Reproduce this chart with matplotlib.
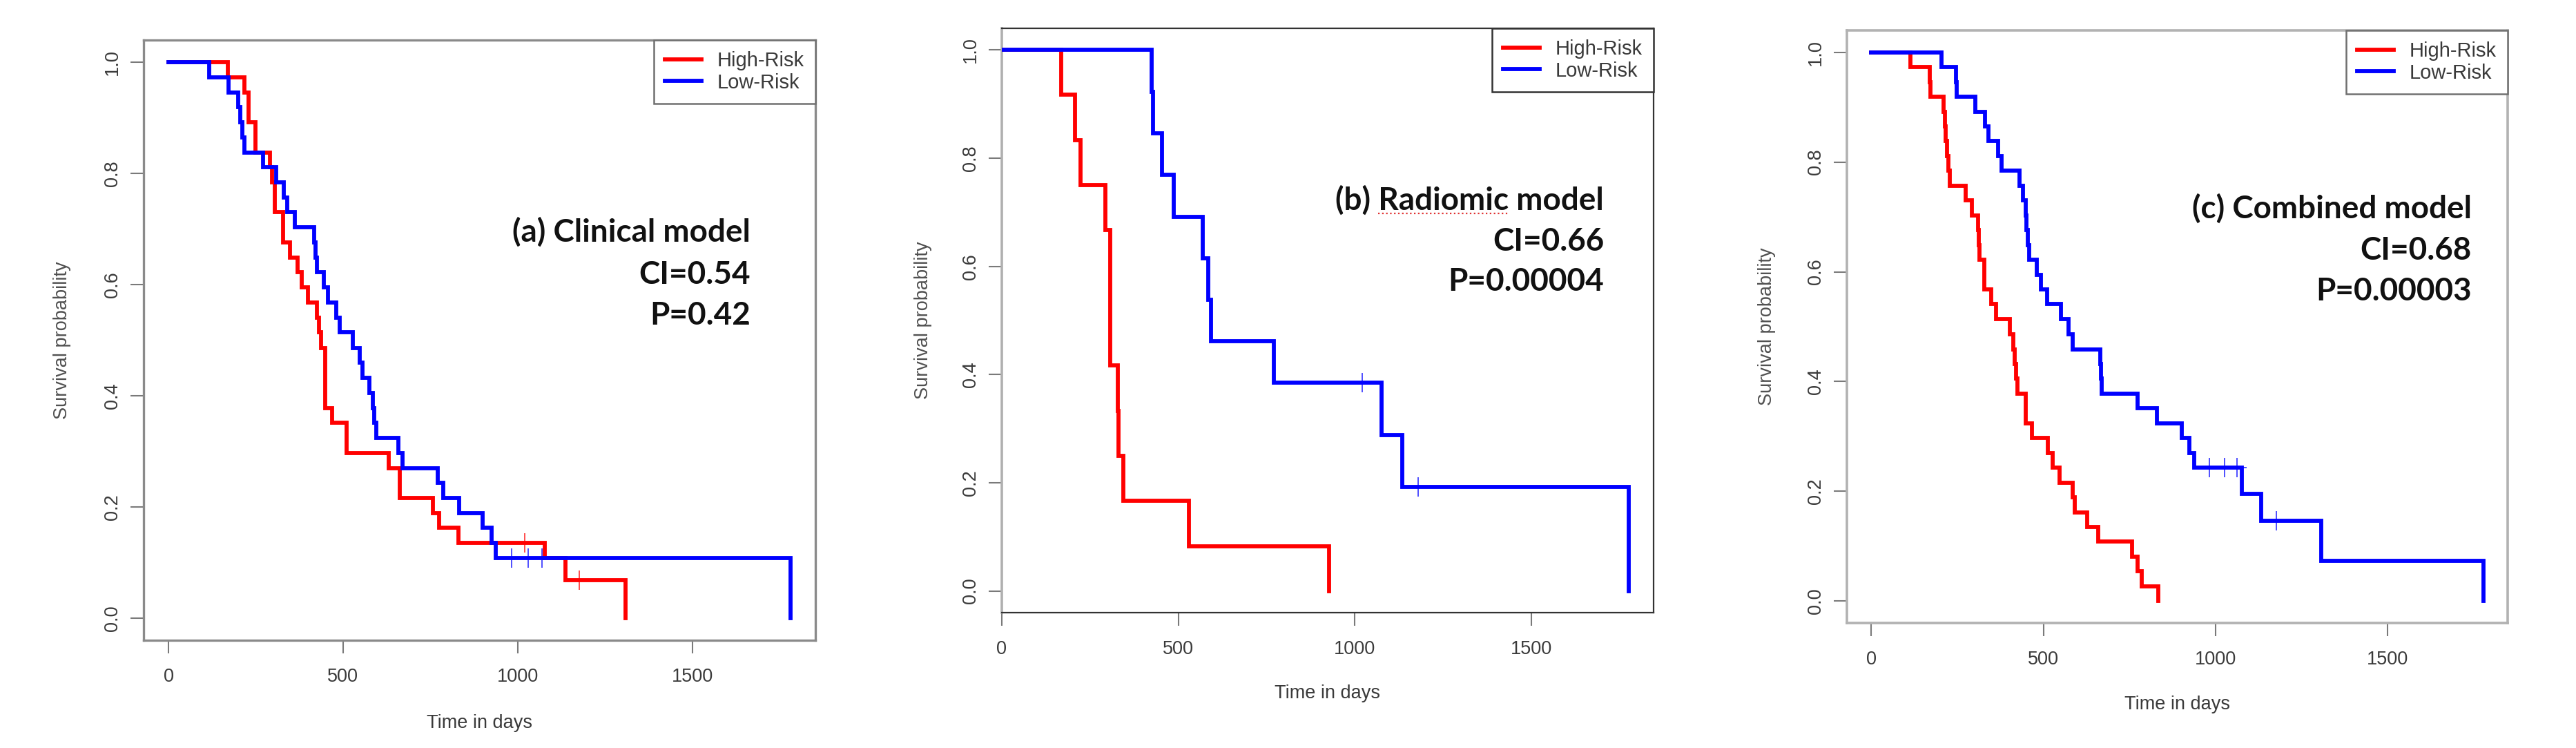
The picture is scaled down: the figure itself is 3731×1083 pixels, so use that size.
import matplotlib
matplotlib.use("Agg")
import matplotlib.pyplot as plt
from matplotlib.lines import Line2D

# ---------------- data ----------------
# Panel (a) Clinical model
a_high_t = [169, 217, 230, 249, 290, 297, 305, 329, 348, 369, 381, 400, 424, 430, 436,
            449, 468, 510, 630, 663, 758, 774, 830, 1078, 1136, 1309]
a_high_s = [0.973, 0.946, 0.892, 0.838, 0.811, 0.784, 0.730, 0.676, 0.649, 0.622, 0.595,
            0.568, 0.541, 0.514, 0.486, 0.378, 0.351, 0.297, 0.270, 0.216, 0.189, 0.162,
            0.135, 0.108, 0.068, 0.0]
a_high_cens_t = [1019, 1177]
a_high_cens_s = [0.135, 0.068]
a_low_t = [117, 172, 200, 206, 212, 218, 271, 309, 331, 339, 362, 418, 421, 424, 444, 457,
           481, 490, 528, 548, 556, 575, 586, 590, 594, 659, 671, 770, 786, 832, 900, 925,
           936, 1781]
a_low_s = [0.973, 0.946, 0.919, 0.892, 0.865, 0.838, 0.811, 0.784, 0.757, 0.730, 0.703,
           0.676, 0.649, 0.622, 0.595, 0.568, 0.541, 0.514, 0.486, 0.459, 0.432, 0.405,
           0.378, 0.351, 0.324, 0.297, 0.270, 0.243, 0.216, 0.189, 0.162, 0.135, 0.108, 0.0]
a_low_cens_t = [983, 1030, 1070]
a_low_cens_s = [0.108, 0.108, 0.108]

# Panel (b) Radiomic model
b_high_t = [169, 208, 223, 293, 308, 328, 330, 345, 531, 927]
b_high_s = [0.917, 0.833, 0.750, 0.667, 0.417, 0.333, 0.250, 0.167, 0.083, 0.0]
b_high_cens_t = []
b_high_cens_s = []
b_low_t = [424, 428, 453, 487, 570, 585, 593, 771, 1076, 1135, 1776]
b_low_s = [0.923, 0.846, 0.769, 0.692, 0.615, 0.538, 0.462, 0.385, 0.288, 0.192, 0.0]
b_low_cens_t = [1022, 1180]
b_low_cens_s = [0.385, 0.192]

# Panel (c) Combined model
c_high_t = [113, 170, 172, 209, 213, 216, 220, 224, 228, 273, 292, 309, 311, 313, 328, 349,
            363, 402, 413, 417, 421, 425, 448, 467, 513, 526, 547, 585, 590, 626, 658, 757,
            773, 786, 834]
c_high_s = [0.973, 0.946, 0.919, 0.892, 0.865, 0.838, 0.811, 0.784, 0.757, 0.730, 0.703,
            0.676, 0.649, 0.622, 0.568, 0.541, 0.514, 0.486, 0.459, 0.432, 0.405, 0.378,
            0.324, 0.297, 0.270, 0.243, 0.216, 0.189, 0.162, 0.135, 0.108, 0.081, 0.054,
            0.027, 0.0]
c_high_cens_t = []
c_high_cens_s = []
c_low_t = [204, 245, 247, 301, 330, 340, 368, 379, 430, 440, 448, 451, 455, 459, 480, 493,
           510, 550, 572, 585, 664, 666, 668, 773, 830, 901, 923, 937, 1076, 1133, 1307, 1777]
c_low_s = [0.973, 0.946, 0.919, 0.892, 0.865, 0.838, 0.811, 0.784, 0.757, 0.730, 0.703,
           0.676, 0.649, 0.622, 0.595, 0.568, 0.541, 0.514, 0.486, 0.459, 0.432, 0.405,
           0.378, 0.351, 0.324, 0.297, 0.270, 0.243, 0.195, 0.146, 0.073, 0.0]
c_low_cens_t = [982, 1025, 1062, 1176]
c_low_cens_s = [0.243, 0.243, 0.243, 0.146]

group_labels = ["High-Risk", "Low-Risk"]
group_colors = ["#ff0000", "#0000ff"]
x_ticks = [0, 500, 1000, 1500]
y_ticks = [0.0, 0.2, 0.4, 0.6, 0.8, 1.0]
y_ticklabels = ["0.0", "0.2", "0.4", "0.6", "0.8", "1.0"]
x_label = "Time in days"
y_label = "Survival probability"

titles = ["(a) Clinical model", "(b) Radiomic model", "(c) Combined model"]
ci_texts = ["CI=0.54", "CI=0.66", "CI=0.68"]
p_texts = ["P=0.42", "P=0.00004", "P=0.00003"]

# ---------------- figure ----------------
W, H = 3731, 1083
fig = plt.figure(figsize=(W / 100, H / 100), dpi=100)
fig.patch.set_facecolor("white")

TICK_FONT = "Liberation Sans"

panels = [
    dict(box=(208, 1181, 58, 927), high=(a_high_t, a_high_s, a_high_cens_t, a_high_cens_s),
         low=(a_low_t, a_low_s, a_low_cens_t, a_low_cens_s), pad_left=True,
         spine="#8a8a8a", spine_lw=2.4, left_spine="#8a8a8a", left_lw=2.4,
         leg_edge="#707070", text=(1087, 350, 411, 470)),
    dict(box=(1451, 2395, 41, 887), high=(b_high_t, b_high_s, b_high_cens_t, b_high_cens_s),
         low=(b_low_t, b_low_s, b_low_cens_t, b_low_cens_s), pad_left=False,
         spine="#333333", spine_lw=1.6, left_spine="#b0b0b0", left_lw=2.6,
         leg_edge="#333333", text=(2323, 304, 363, 421)),
    dict(box=(2675, 3632, 44, 902), high=(c_high_t, c_high_s, c_high_cens_t, c_high_cens_s),
         low=(c_low_t, c_low_s, c_low_cens_t, c_low_cens_s), pad_left=True,
         spine="#b2b2b2", spine_lw=2.6, left_spine="#b2b2b2", left_lw=2.6,
         leg_edge="#707070", text=(3580, 316, 376, 435)),
]

axes = []
for i, p in enumerate(panels):
    l, r, t, b = p["box"]
    ax = fig.add_axes([l / W, 1 - b / H, (r - l) / W, (b - t) / H])
    axes.append(ax)

    for (tt, ss, ct, cs), col in zip([p["high"], p["low"]], group_colors):
        ax.step([0] + list(tt), [1.0] + list(ss), where="post", color=col, lw=4.2,
                solid_joinstyle="miter", zorder=3)
        if ct:
            ax.plot(ct, cs, ls="none", marker="+", ms=20, mew=1.3, color=col,
                    alpha=0.75, zorder=4)

    tmax = max(max(p["high"][0]), max(p["low"][0]))
    xl = -0.04 * tmax if p["pad_left"] else 0
    ax.set_xlim(xl, 1.04 * tmax)
    ax.set_ylim(-0.04, 1.04)

    ax.set_xticks(x_ticks)
    ax.set_xticklabels([str(v) for v in x_ticks])
    ax.set_yticks(y_ticks)
    ax.set_yticklabels(y_ticklabels, rotation=90, va="center")
    ax.tick_params(axis="both", direction="out", length=13.7, width=1.5,
                   colors="#7a7a7a", labelcolor="#3a3a3a", labelsize=19.5)
    ax.tick_params(axis="x", pad=15)
    ax.tick_params(axis="y", pad=9.5)
    for lab in ax.get_xticklabels() + ax.get_yticklabels():
        lab.set_fontfamily(TICK_FONT)

    for side in ["top", "right", "bottom"]:
        ax.spines[side].set_color(p["spine"])
        ax.spines[side].set_linewidth(p["spine_lw"])
    ax.spines["left"].set_color(p["left_spine"])
    ax.spines["left"].set_linewidth(p["left_lw"])

    ax.set_xlabel(x_label, fontsize=19.5, family=TICK_FONT, color="#3a3a3a", va="center")
    ax.set_ylabel(y_label, fontsize=19.5, family=TICK_FONT, color="#505050", va="center")
    ax.xaxis.set_label_coords(0.5, -0.138)
    ax.yaxis.set_label_coords(-0.121, 0.5)

    handles = [Line2D([], [], color=c, lw=4.2) for c in group_colors]
    leg = ax.legend(handles, group_labels, loc="upper right", borderaxespad=0,
                    fancybox=False, framealpha=1, edgecolor=p["leg_edge"],
                    prop={"family": TICK_FONT, "size": 21}, handlelength=1.8,
                    handletextpad=0.8, borderpad=0.55, labelspacing=0.12)
    leg.get_frame().set_linewidth(1.8)
    for txt in leg.get_texts():
        txt.set_color("#3a3a3a")

    xr, y1, y2, y3 = p["text"]
    kw = dict(ha="right", va="baseline", family="Lato", weight="bold", fontsize=33,
              color="#111111")
    fig.text(xr / W, 1 - y1 / H, titles[i], **kw)
    fig.text(xr / W, 1 - y2 / H, ci_texts[i], **kw)
    fig.text(xr / W, 1 - y3 / H, p_texts[i], **kw)

# red dotted spell-check underline under "Radiomic" in panel (b)
fig.canvas.draw()
renderer = fig.canvas.get_renderer()
xr, y1 = panels[1]["text"][0], panels[1]["text"][1]
kw = dict(ha="left", va="baseline", family="Lato", weight="bold", fontsize=33)
tmp = fig.text(0, 0, "Radiomic model", **kw)
w_all = tmp.get_window_extent(renderer).width
tmp.set_text("Radiomic")
w_word = tmp.get_window_extent(renderer).width
tmp.remove()
x_start = xr - w_all
x_end = x_start + w_word
y_u = y1 + 5
fig.add_artist(Line2D([x_start / W, x_end / W], [1 - y_u / H, 1 - y_u / H],
                      transform=fig.transFigure, color="#e03030", lw=1.6,
                      ls=(0, (1, 1.6))))

fig.savefig("out.png", dpi=100, facecolor="white")
